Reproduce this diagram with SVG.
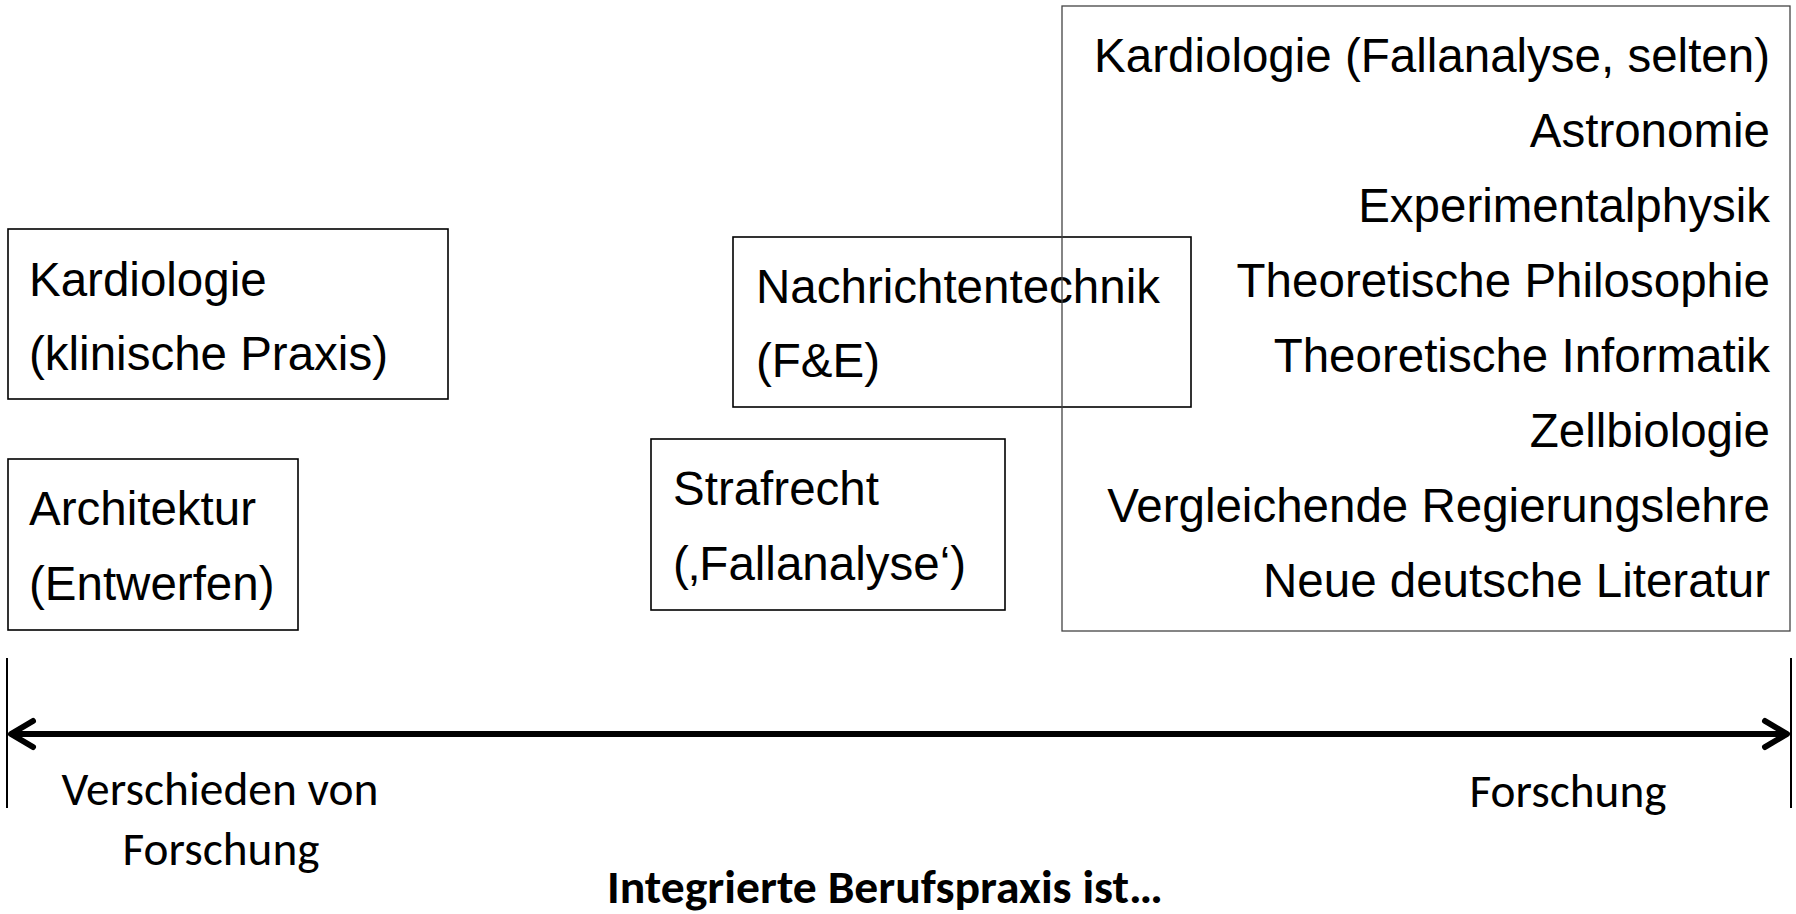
<svg xmlns="http://www.w3.org/2000/svg" width="1796" height="914" viewBox="0 0 1796 914">
<style>
.box{fill:none;stroke:#000;stroke-width:1.6}
.big{fill:none;stroke:#444;stroke-width:1.3}
.t{font-family:"Liberation Sans",Arial,sans-serif;font-size:47.5px;fill:#000}
.r{text-anchor:end}
.c{font-family:Carlito,Calibri,Lato,sans-serif;font-size:47px;fill:#000;text-anchor:middle}
.b{font-weight:bold}
.tick{stroke:#000;stroke-width:2}
.axis{stroke:#000;stroke-width:6;fill:none}
</style>
<defs>
<marker id="head" markerUnits="userSpaceOnUse" viewBox="-30 -20 40 40" markerWidth="40" markerHeight="40" refX="0" refY="0" orient="auto-start-reverse" overflow="visible">
<path d="M -19 -13 L 3 0 L -19 13" fill="none" stroke="#000" stroke-width="6" stroke-linecap="round" stroke-linejoin="round"/>
</marker>
</defs>
<rect width="1796" height="914" fill="#fff"/>
<g id="kardiologie-klinik">
<rect class="box" x="8" y="229" width="440" height="170"/>
<text class="t" x="29" y="296">Kardiologie</text>
<text class="t" x="29" y="370">(klinische Praxis)</text>
</g>
<g id="architektur">
<rect class="box" x="8" y="459" width="290" height="171"/>
<text class="t" x="29" y="525">Architektur</text>
<text class="t" x="29" y="600">(Entwerfen)</text>
</g>
<g id="nachrichtentechnik">
<rect class="box" x="733" y="237" width="458" height="170"/>
<text class="t" x="756" y="303">Nachrichtentechnik</text>
<text class="t" x="756" y="377">(F&amp;E)</text>
</g>
<g id="strafrecht">
<rect class="box" x="651" y="439" width="354" height="171"/>
<text class="t" x="673" y="505">Strafrecht</text>
<text class="t" x="673" y="580">(‚Fallanalyse‘)</text>
</g>
<g id="forschung-liste">
<rect class="big" x="1062" y="6" width="728" height="625"/>
<text class="t r" x="1770" y="72">Kardiologie (Fallanalyse, selten)</text>
<text class="t r" x="1770" y="147">Astronomie</text>
<text class="t r" x="1770" y="222">Experimentalphysik</text>
<text class="t r" x="1770" y="297">Theoretische Philosophie</text>
<text class="t r" x="1770" y="372">Theoretische Informatik</text>
<text class="t r" x="1770" y="447">Zellbiologie</text>
<text class="t r" x="1770" y="522">Vergleichende Regierungslehre</text>
<text class="t r" x="1770" y="597">Neue deutsche Literatur</text>
</g>
<g id="connectors">
<line class="tick" x1="7" y1="658" x2="7" y2="808"/>
<line class="tick" x1="1791" y1="658" x2="1791" y2="808"/>
<line class="axis" x1="14" y1="734" x2="1784" y2="734" marker-start="url(#head)" marker-end="url(#head)"/>
</g>
<g id="labels">
<text class="c" x="220" y="805" textLength="317" lengthAdjust="spacingAndGlyphs">Verschieden von</text>
<text class="c" x="221" y="865" textLength="197" lengthAdjust="spacingAndGlyphs">Forschung</text>
<text class="c" x="1568" y="807" textLength="197" lengthAdjust="spacingAndGlyphs">Forschung</text>
<text class="c b" x="885" y="903" textLength="556" lengthAdjust="spacingAndGlyphs">Integrierte Berufspraxis ist…</text>
</g>
</svg>
